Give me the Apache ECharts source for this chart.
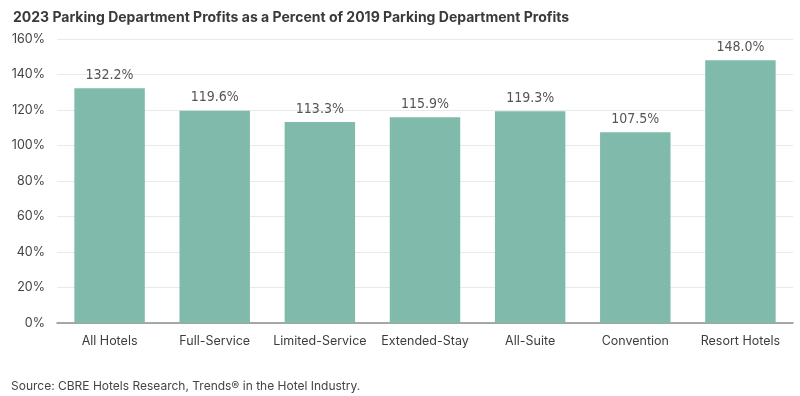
<!DOCTYPE html>
<html>
<head>
<meta charset="utf-8">
<script src="https://cdn.jsdelivr.net/npm/echarts@6/dist/echarts.min.js"></script>
<style>
  html, body { margin: 0; padding: 0; background: #fff; }
  #chart { width: 800px; height: 396px; }
</style>
</head>
<body>
<div id="chart"></div>
<script>
// chart data
var categories = ['All Hotels', 'Full-Service', 'Limited-Service', 'Extended-Stay', 'All-Suite', 'Convention', 'Resort Hotels'];
var profitPct = [132.2, 119.6, 113.3, 115.9, 119.3, 107.5, 148.0];
var yTicks = [0, 20, 40, 60, 80, 100, 120, 140, 160];

var chart = echarts.init(document.getElementById('chart'));

chart.setOption({
  animation: false,
  title: [
    {
      text: '2023 Parking Department Profits as a Percent of 2019 Parking Department Profits',
      left: 8, top: 6,
      textStyle: { fontFamily: 'Inter, "Noto Sans", sans-serif', fontSize: 14, fontWeight: 'bold', color: '#3a3a3a' }
    },
    {
      text: 'Source: CBRE Hotels Research, Trends\u00AE in the Hotel Industry.',
      left: 6, top: 375,
      textStyle: { fontFamily: 'Inter, "Noto Sans", sans-serif', fontSize: 12, fontWeight: 'normal', color: '#444' }
    }
  ],
  grid: { left: 57, right: 7, top: 39, bottom: 73, containLabel: false },
  xAxis: {
    type: 'category',
    data: categories,
    axisTick: { show: false },
    axisLine: { lineStyle: { color: '#8a8f8d', width: 1.5 } },
    axisLabel: { interval: 0, color: '#3d3d3d', fontSize: 12.5, margin: 12, fontFamily: 'Inter, "Noto Sans", sans-serif' }
  },
  yAxis: {
    type: 'value',
    min: yTicks[0],
    max: yTicks[yTicks.length - 1],
    interval: 20,
    axisLine: { show: false },
    axisTick: { show: false },
    splitLine: { lineStyle: { color: '#e6ebe9', width: 1 } },
    axisLabel: { color: '#444', fontSize: 12.5, margin: 12, formatter: '{value}%', fontFamily: 'Inter, "Noto Sans", sans-serif' }
  },
  series: [{
    type: 'bar',
    data: profitPct,
    barCategoryGap: '33%',
    itemStyle: { color: '#7fbaab' },
    label: {
      show: true,
      position: 'top',
      distance: 6,
      color: '#555',
      fontSize: 14,
      fontFamily: '"Liberation Sans Narrow", "DejaVu Sans Condensed", sans-serif',
      formatter: function (p) { return p.value.toFixed(1) + '%'; }
    }
  }]
});
</script>
</body>
</html>
